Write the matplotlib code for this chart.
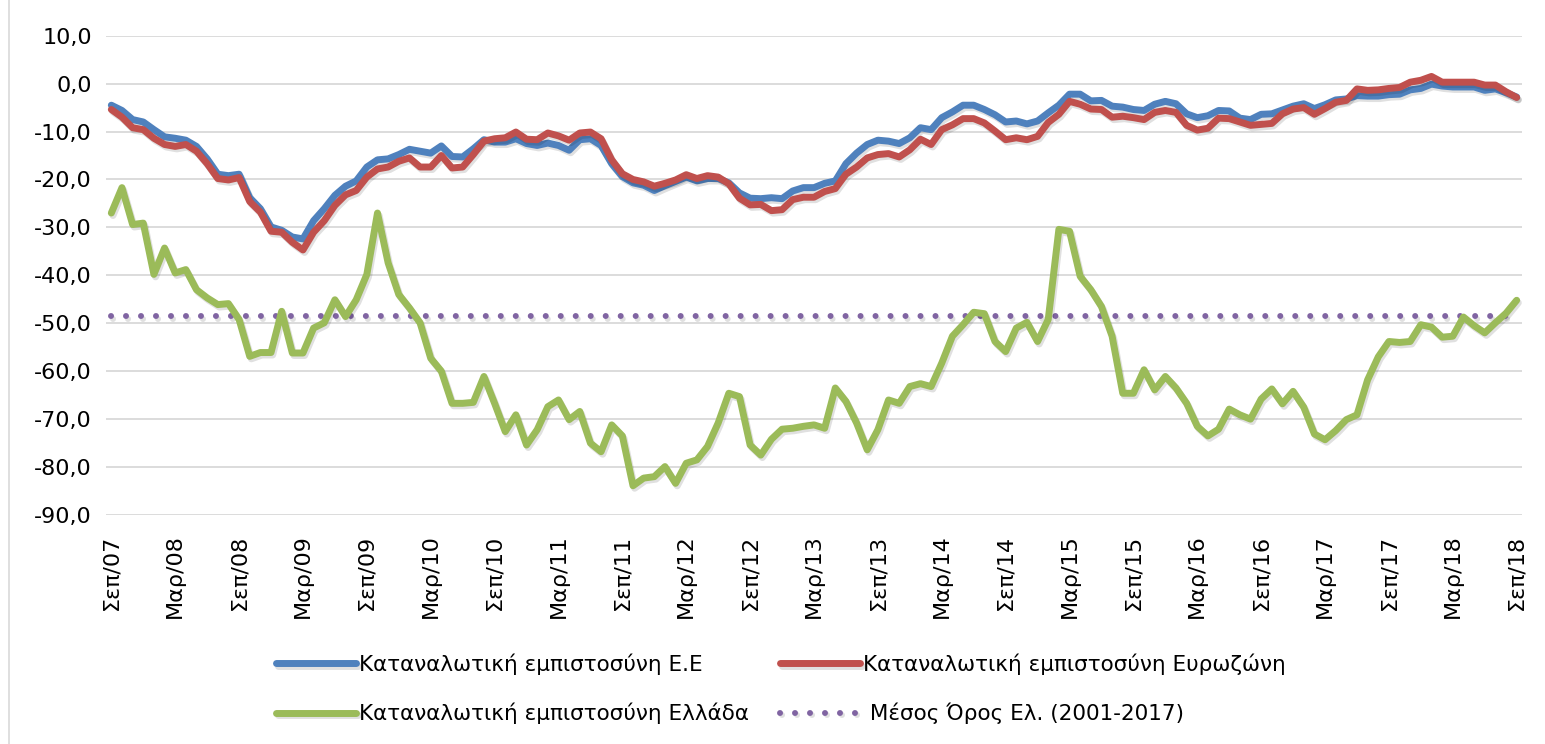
import numpy as np
import matplotlib
matplotlib.use("Agg")
import matplotlib.pyplot as plt
import matplotlib.patheffects as pe
from matplotlib.lines import Line2D


# --- данные (месячные, Σεπ/07 ... Σεπ/18)
eu = [
    -4.5, -5.6, -7.5, -8.0, -9.6, -11.1, -11.4, -11.8, -13.1, -15.7, -18.9, -19.2,
    -18.9, -23.8, -26.1, -29.9, -30.6, -32.0, -32.4, -28.6, -26.1, -23.3, -21.4, -20.3,
    -17.4, -15.9, -15.7, -14.8, -13.7, -14.1, -14.5, -13.0, -15.2, -15.3, -13.6, -11.7,
    -12.2, -12.2, -11.5, -12.5, -12.9, -12.4, -12.9, -13.9, -11.7, -11.5, -12.9, -16.7,
    -19.4, -20.7, -21.2, -22.3, -21.3, -20.4, -19.5, -20.3, -19.8, -19.8, -20.7, -22.8,
    -23.9, -24.0, -23.8, -24.0, -22.4, -21.7, -21.7, -20.8, -20.3, -16.7, -14.5, -12.7,
    -11.8, -12.0, -12.5, -11.3, -9.2, -9.6, -7.1, -5.9, -4.5, -4.5, -5.4, -6.5,
    -8.0, -7.8, -8.4, -7.8, -6.1, -4.5, -2.2, -2.2, -3.6, -3.5, -4.7, -4.9,
    -5.4, -5.6, -4.3, -3.7, -4.2, -6.3, -7.1, -6.7, -5.6, -5.7, -7.2, -7.5,
    -6.4, -6.3, -5.5, -4.7, -4.2, -5.2, -4.4, -3.4, -3.2, -2.5, -2.6, -2.6,
    -2.3, -2.2, -1.3, -1.0, -0.1, -0.5, -0.7, -0.7, -0.7, -1.4, -1.1, -1.9,
    -2.8,
]

ez = [
    -5.4, -7.0, -9.2, -9.6, -11.4, -12.7, -13.1, -12.7, -14.1, -16.7, -19.8, -20.1,
    -19.6, -24.6, -26.8, -30.8, -31.0, -33.1, -34.7, -31.0, -28.6, -25.4, -23.2, -22.3,
    -19.5, -17.8, -17.4, -16.2, -15.5, -17.4, -17.4, -15.0, -17.6, -17.4, -14.8, -12.0,
    -11.5, -11.3, -10.1, -11.6, -11.7, -10.3, -10.9, -11.8, -10.3, -10.1, -11.5, -15.9,
    -18.8, -20.0, -20.5, -21.4, -20.8, -20.1, -19.0, -19.8, -19.2, -19.5, -20.9, -23.9,
    -25.3, -25.2, -26.5, -26.3, -24.2, -23.7, -23.7, -22.5, -21.9, -18.9, -17.4, -15.5,
    -14.8, -14.6, -15.3, -13.8, -11.6, -12.7, -9.6, -8.6, -7.3, -7.3, -8.2, -9.9,
    -11.7, -11.3, -11.7, -11.0, -8.1, -6.4, -3.7, -4.3, -5.3, -5.4, -7.0, -6.8,
    -7.1, -7.5, -6.0, -5.6, -6.0, -8.7, -9.7, -9.3, -7.2, -7.3, -8.0, -8.7,
    -8.5, -8.3, -6.3, -5.3, -5.0, -6.4, -5.2, -3.9, -3.5, -1.1, -1.4, -1.3,
    -1.0, -0.8, 0.3, 0.7, 1.5, 0.3, 0.3, 0.3, 0.3, -0.3, -0.3, -1.7,
    -2.9,
]

gr = [
    -27.0, -21.7, -29.4, -29.1, -39.8, -34.3, -39.5, -38.8, -43.0, -44.7, -46.1, -45.9,
    -49.2, -56.9, -56.1, -56.1, -47.5, -56.2, -56.2, -51.0, -49.9, -45.1, -48.6, -45.1,
    -39.8, -27.0, -37.4, -44.0, -46.8, -49.9, -57.3, -60.0, -66.7, -66.7, -66.5, -61.1,
    -66.7, -72.6, -69.1, -75.4, -72.2, -67.4, -66.0, -70.1, -68.4, -75.0, -76.8, -71.2,
    -73.5, -83.9, -82.3, -82.0, -79.9, -83.4, -79.2, -78.5, -75.7, -70.8, -64.6, -65.3,
    -75.4, -77.5, -74.2, -72.1, -71.9, -71.5, -71.2, -71.9, -63.5, -66.3, -70.8, -76.4,
    -72.2, -66.0, -66.7, -63.2, -62.6, -63.2, -58.3, -52.7, -50.3, -47.7, -48.0, -53.8,
    -55.9, -51.0, -49.8, -53.8, -49.2, -30.4, -30.8, -40.2, -43.0, -46.5, -52.7, -64.6,
    -64.6, -59.7, -63.9, -61.1, -63.5, -66.7, -71.5, -73.5, -72.1, -67.9, -69.1, -70.0,
    -65.8, -63.7, -66.8, -64.2, -67.5, -73.1, -74.3, -72.4, -70.1, -69.1, -61.8, -57.0,
    -53.8, -54.0, -53.8, -50.3, -50.8, -52.9, -52.7, -48.7, -50.5, -52.0, -49.9, -47.9,
    -45.2,
]

gr_mean = -48.5

tick_labels = [
    "Σεπ/07", "Μαρ/08", "Σεπ/08", "Μαρ/09", "Σεπ/09", "Μαρ/10", "Σεπ/10", "Μαρ/11",
    "Σεπ/11", "Μαρ/12", "Σεπ/12", "Μαρ/13", "Σεπ/13", "Μαρ/14", "Σεπ/14", "Μαρ/15",
    "Σεπ/15", "Μαρ/16", "Σεπ/16", "Μαρ/17", "Σεπ/17", "Μαρ/18", "Σεπ/18",
]

labels = [
    "Καταναλωτική εμπιστοσύνη Ε.Ε",
    "Καταναλωτική εμπιστοσύνη Ευρωζώνη",
    "Καταναλωτική εμπιστοσύνη Ελλάδα",
    " Μέσος Όρος Ελ. (2001-2017)",
]

plt.rcParams["font.family"] = ["DejaVu Sans"]
FS = 16

x = np.arange(len(gr))

fig = plt.figure(figsize=(15.45, 7.44), dpi=100)
ax = fig.add_axes([106 / 1545, 1 - 515 / 744, 1416 / 1545, (515 - 35.7) / 744])

shadow = [pe.SimpleLineShadow(offset=(1.2, -1.8), shadow_color="black", alpha=0.12), pe.Normal()]

l_eu, = ax.plot(x, eu, color="#4F81BD", lw=5, solid_capstyle="round", solid_joinstyle="round",
                path_effects=shadow, zorder=3)
l_ez, = ax.plot(x, ez, color="#C0504D", lw=5, solid_capstyle="round", solid_joinstyle="round",
                path_effects=shadow, zorder=4)
l_gr, = ax.plot(x, gr, color="#9BBB59", lw=5, solid_capstyle="round", solid_joinstyle="round",
                path_effects=shadow, zorder=3)
l_mean, = ax.plot(x, np.full(len(x), gr_mean), color="#8064A2", lw=4.3,
                  linestyle=(0, (0.01, 2.5)), dash_capstyle="round",
                  path_effects=shadow, zorder=2)

ax.set_xlim(-0.5, len(x) - 0.5)
ax.set_ylim(-90, 10)
ax.set_yticks(np.arange(-90, 11, 10))
ax.set_yticklabels([f"{v:.1f}".replace(".", ",") for v in np.arange(-90, 11, 10)], fontsize=FS)
ax.set_xticks(np.arange(0, len(x), 6))
ax.set_xticklabels(tick_labels, rotation=90, fontsize=FS)
ax.tick_params(axis="both", length=0, colors="black")
ax.tick_params(axis="y", pad=10)
ax.tick_params(axis="x", pad=14)

ax.grid(axis="y", color="#d9d9d9", lw=1.3)
ax.set_axisbelow(True)
for s in ax.spines.values():
    s.set_visible(False)

# рамка слева
fig.add_artist(Line2D([8.5 / 1545, 8.5 / 1545], [0, 1], color="#d9d9d9", lw=1.2))

leg = fig.legend(
    [l_eu, l_gr, l_ez, l_mean],
    [labels[0], labels[2], labels[1], labels[3]],
    ncol=2, loc="upper left", bbox_to_anchor=(257 / 1545, 1 - 634 / 744),
    frameon=False, fontsize=15.5, handlelength=3.7, handletextpad=0.15,
    columnspacing=1.45, labelspacing=1.3,
)

fig.savefig("out.png", dpi=100)
